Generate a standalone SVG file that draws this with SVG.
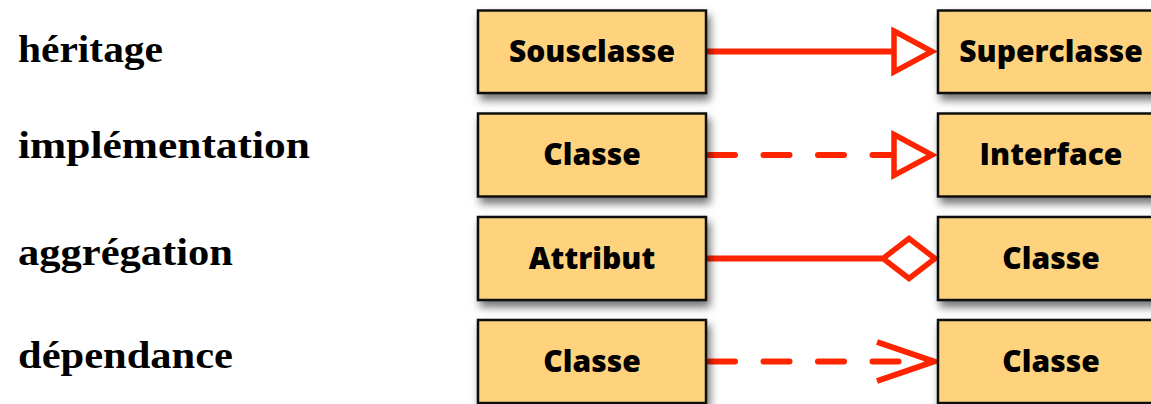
<svg xmlns="http://www.w3.org/2000/svg" width="1151" height="404" viewBox="0 0 1151 404">
<defs>
<filter id="sh" x="-10%" y="-20%" width="130%" height="160%">
<feDropShadow dx="3" dy="6" stdDeviation="4" flood-color="#000" flood-opacity="0.55"/>
</filter>
</defs>
<style>
.box{fill:#FFD37E;stroke:#111;stroke-width:2.5;filter:url(#sh)}
.bt{font-family:"Open Sans","Liberation Sans",sans-serif;font-weight:800;font-size:30px;fill:#000;text-anchor:middle}
.lbl{font-family:"Liberation Serif",serif;font-weight:bold;font-size:38px;fill:#000}
.ln{fill:none;stroke:#FF2400;stroke-width:6}
.dash{stroke-dasharray:26 28.5;stroke-linecap:round}
.head{fill:#fff;stroke:#FF2400;stroke-width:5.5}
</style>
<g id="labels">
<text class="lbl" x="18" y="62" textLength="145" lengthAdjust="spacingAndGlyphs">héritage</text>
<text class="lbl" x="18" y="158" textLength="292" lengthAdjust="spacingAndGlyphs">implémentation</text>
<text class="lbl" x="18" y="265" textLength="215" lengthAdjust="spacingAndGlyphs">aggrégation</text>
<text class="lbl" x="18" y="368" textLength="215" lengthAdjust="spacingAndGlyphs">dépendance</text>
</g>
<g id="connectors">
<line class="ln" x1="706" y1="51.5" x2="896" y2="51.5"/>
<polygon class="head" points="894,31 932,51.5 894,72"/>
<line class="ln dash" x1="709" y1="155" x2="896" y2="155"/>
<polygon class="head" points="894,134.5 932,155 894,175.5"/>
<line class="ln" x1="706" y1="258.5" x2="882" y2="258.5"/>
<polygon class="head" points="883,258.5 909,238.5 935,258.5 909,278.5"/>
<line class="ln dash" x1="709" y1="361.5" x2="930" y2="361.5"/>
<polyline class="ln" points="877,342 934,361.5 877,381"/>
</g>
<g id="n-sousclasse"><rect class="box" x="478" y="10.5" width="228" height="82.5"/><text class="bt" x="592" y="62">Sousclasse</text></g>
<g id="n-superclasse"><rect class="box" x="938" y="10.5" width="228" height="82.5"/><text class="bt" x="1051" y="62">Superclasse</text></g>
<g id="n-classe1"><rect class="box" x="478" y="113.5" width="228" height="83"/><text class="bt" x="592" y="165">Classe</text></g>
<g id="n-interface"><rect class="box" x="938" y="113.5" width="228" height="83"/><text class="bt" x="1051" y="165">Interface</text></g>
<g id="n-attribut"><rect class="box" x="478" y="217" width="228" height="83"/><text class="bt" x="592" y="268.5">Attribut</text></g>
<g id="n-classe2"><rect class="box" x="938" y="217" width="228" height="83"/><text class="bt" x="1051" y="268.5">Classe</text></g>
<g id="n-classe3"><rect class="box" x="478" y="320" width="228" height="83"/><text class="bt" x="592" y="371.5">Classe</text></g>
<g id="n-classe4"><rect class="box" x="938" y="320" width="228" height="83"/><text class="bt" x="1051" y="371.5">Classe</text></g>
</svg>
